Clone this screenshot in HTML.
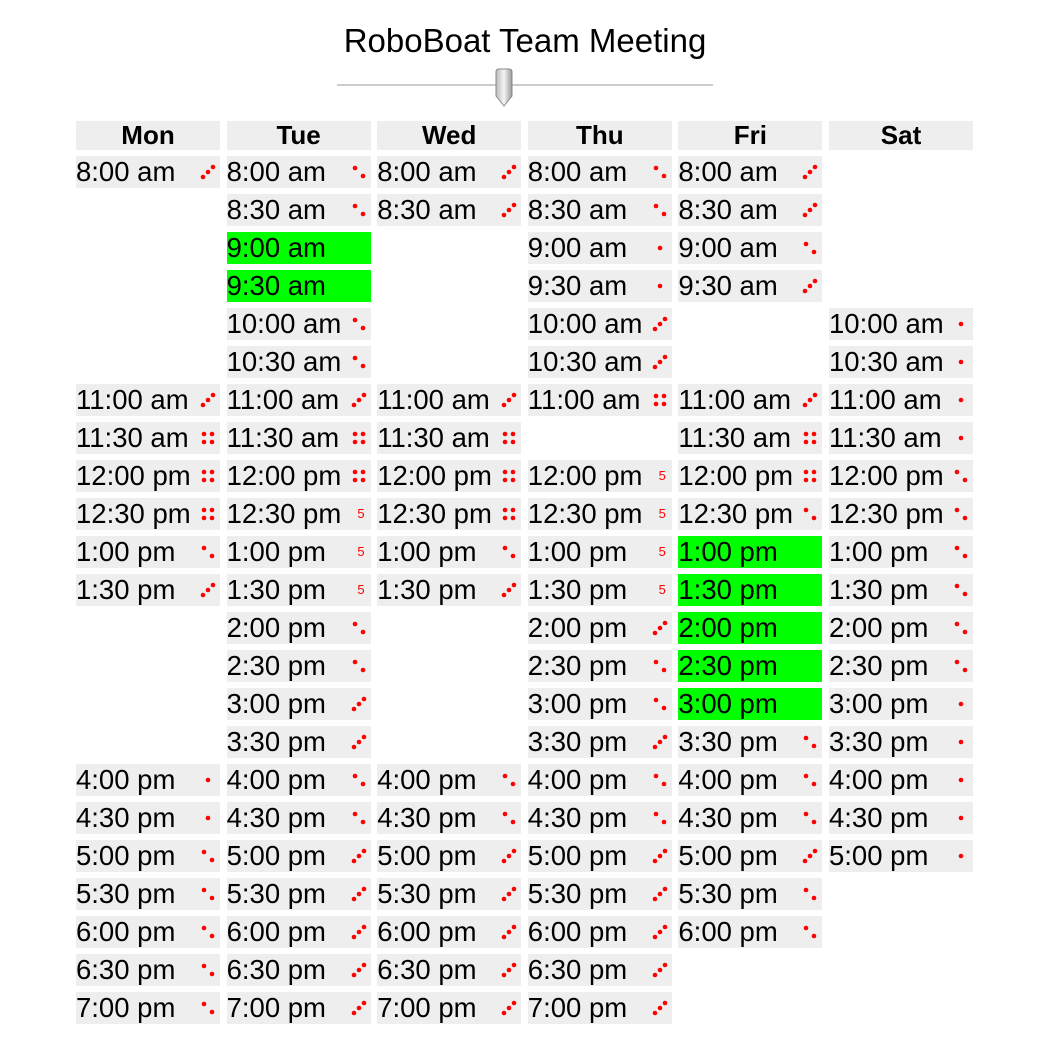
<!DOCTYPE html>
<html><head><meta charset="utf-8">
<style>
body{margin:0;background:#fff;width:1040px;height:1040px;position:relative;overflow:hidden;font-family:"Liberation Sans",Arial,sans-serif;}
#title{position:absolute;left:0;width:1050px;top:22px;text-align:center;font-size:33px;color:#000;}
#track{position:absolute;left:337px;top:84px;width:376px;height:2px;background:#ccc;}
#thumb{position:absolute;left:494px;top:68px;width:20px;height:40px;}
.cell{position:absolute;height:32px;background:#eee;font-size:27.5px;line-height:32px;color:#000;white-space:nowrap;}
.hdr{font-weight:bold;text-align:center;height:29px;line-height:29px;font-size:26px;}
.green{background:#00ff00;}
.ic{position:absolute;right:4px;top:8px;width:16px;height:16px;}
.five{position:absolute;right:6px;top:0;font-size:13px;color:#f00;line-height:32px;}
</style></head><body>
<div id="title">RoboBoat Team Meeting</div>
<div id="track"></div>
<svg id="thumb" viewBox="0 0 20 40"><defs><linearGradient id="tg" x1="0" x2="1"><stop offset="0" stop-color="#bbb"/><stop offset=".5" stop-color="#f4f4f4"/><stop offset="1" stop-color="#999"/></linearGradient></defs><path d="M2 4 Q2 1 5 1 L15 1 Q18 1 18 4 L18 28 L10 38 L2 28Z" fill="url(#tg)" stroke="#888"/></svg>
<div id="grid"></div>
<script>
const days=["Mon","Tue","Wed","Thu","Fri","Sat"];
const times=["8:00 am","8:30 am","9:00 am","9:30 am","10:00 am","10:30 am","11:00 am","11:30 am","12:00 pm","12:30 pm","1:00 pm","1:30 pm","2:00 pm","2:30 pm","3:00 pm","3:30 pm","4:00 pm","4:30 pm","5:00 pm","5:30 pm","6:00 pm","6:30 pm","7:00 pm"];
// per day: code per time slot ('-' none, 'g' green, 1-4 dots, 5 number)
const monSlots="3-----344423----1122222";
const tueSlots="22gg22344555223322333333".slice(0,23);
const wedSlots="33----344423----2233333";
const thuSlots="2211334-5555322322333333".slice(0,23);
const friSlots="3323--3442ggggg222322--";
const satSlots="----111122222211111----";
const allSlots=[monSlots,"22gg2234455522332233333",wedSlots,"2211334-555532232233333",friSlots,satSlots];
const colX=d=>76+d*150.6, rowY=i=>156+i*38;
const g=document.getElementById('grid');
function dice(n){
  const pts={1:[[8,8]],2:[[4,4],[12,12]],3:[[3,13],[8,8],[13,3]],4:[[4,4],[12,4],[4,12],[12,12]]}[n];
  return '<svg class="ic" viewBox="0 0 16 16">'+pts.map(p=>'<circle cx="'+p[0]+'" cy="'+p[1]+'" r="2.3" fill="#f00"/>').join('')+'</svg>';
}
days.forEach((d,di)=>{
  const h=document.createElement('div');
  h.className='cell hdr';
  
  
  h.style.left=colX(di)+'px';h.style.top='121px';h.style.width='144px';
  h.textContent=d;g.appendChild(h);
  const s=allSlots[di];
  times.forEach((t,ti)=>{
    const c=s[ti];
    if(!c||c==='-')return;
    const e=document.createElement('div');
    e.className='cell'+(c==='g'?' green':'');
    
    
    e.style.left=colX(di)+'px';e.style.top=rowY(ti)+'px';e.style.width='144px';
    let inner=t;
    if(c==='5')inner+='<span class="five">5</span>';
    else if(c!=='g')inner+=dice(+c);
    e.innerHTML=inner;g.appendChild(e);
  });
});
</script>
</body></html>
